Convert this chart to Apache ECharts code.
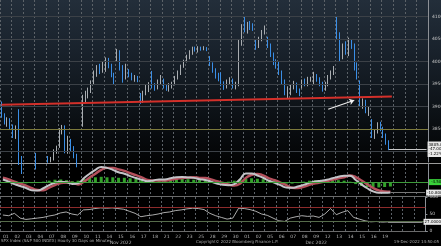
<!DOCTYPE html>
<html><head><meta charset="utf-8">
<script src="https://cdn.jsdelivr.net/npm/echarts@6/dist/echarts.min.js"></script>
<style>
html,body{margin:0;padding:0;background:#000;}
#c{width:441px;height:246px;background:linear-gradient(to bottom,#232e3a 0px,#19222c 50px,#0d1217 110px,#030405 160px,#000 163px);}
</style></head>
<body><div id="c"></div>
<script>
// ---- data ----
const dayLabels = ['01','02','03','04','07','08','09','10','11','14','15','16','17','18','21','22','23','25','28','29','30','01','02','05','06','07','08','09','12','13','14','15','16','19'];
const monthLabels = {10:'Nov 2022', 27:'Dec 2022'};
// candles: [open, close, low, high], 4 bars per trading day
const candles = [
[3901,3880,3875,3911],[3880,3866,3860,3885],[3866,3870,3855,3876],[3870,3856,3850,3874],
[3856,3835,3830,3860],[3835,3852,3828,3858],[3852,3780,3770,3894],[3780,3758,3750,3790],
[3758,3730,3722,3762],[3730,3715,3705,3738],[3715,3705,3698,3725],[3705,3720,3700,3730],
[3795,3765,3760,3797],[3765,3730,3716,3770],[3730,3750,3725,3760],[3750,3770,3745,3775],
[3785,3778,3775,3790],[3778,3782,3776,3788],[3782,3800,3780,3805],[3800,3807,3795,3813],
[3810,3845,3808,3852],[3845,3855,3838,3859],[3855,3800,3796,3858],[3800,3826,3795,3835],
[3826,3805,3800,3828],[3805,3790,3785,3812],[3790,3770,3765,3795],[3770,3748,3745,3775],
[3859,3920,3855,3926],[3920,3925,3910,3935],[3925,3935,3918,3942],[3935,3956,3930,3958],
[3960,3975,3950,3980],[3975,3985,3966,3992],[3985,3978,3972,3995],[3978,3993,3975,4001],
[3985,4005,3977,4009],[4005,3990,3985,4008],[3990,3970,3965,3995],[3970,3957,3949,3975],
[4006,4022,4000,4028],[4022,3985,3980,4025],[3985,3965,3953,3992],[3965,3991,3960,3995],
[3976,3970,3965,3983],[3970,3962,3958,3975],[3962,3966,3955,3970],[3966,3958,3954,3968],
[3925,3910,3906,3930],[3910,3930,3908,3935],[3930,3940,3925,3950],[3940,3947,3932,3954],
[3966,3945,3940,3979],[3945,3940,3935,3952],[3940,3955,3938,3960],[3955,3965,3950,3970],
[3956,3945,3940,3962],[3945,3940,3935,3950],[3940,3945,3933,3952],[3945,3950,3940,3955],
[3951,3965,3947,3968],[3965,3975,3960,3980],[3975,3990,3970,3993],[3990,4003,3986,4004],
[4001,4010,3998,4015],[4010,4020,4005,4025],[4020,4030,4015,4033],[4030,4027,4022,4033],
[4023,4030,4020,4034],[4030,4028,4024,4033],[4028,4031,4025,4034],[4031,4026,4023,4032],
[4005,3995,3990,4012],[3995,3980,3975,3998],[3980,3970,3962,3985],[3970,3964,3956,3975],
[3964,3950,3945,3976],[3950,3942,3937,3956],[3942,3955,3940,3960],[3955,3958,3948,3965],
[3957,3945,3940,3962],[3945,3950,3938,3955],[3950,4040,3945,4050],[4040,4080,4035,4083],
[4090,4070,4065,4100],[4070,4082,4062,4088],[4082,4078,4070,4090],[4078,4076,4068,4085],
[4041,4035,4026,4048],[4035,4050,4030,4055],[4050,4065,4045,4070],[4065,4072,4060,4080],
[4052,4035,4030,4055],[4035,4015,4010,4040],[4015,4000,3992,4020],[4000,3999,3984,4005],
[3996,3975,3970,4001],[3975,3955,3950,3980],[3955,3930,3925,3960],[3930,3941,3918,3945],
[3933,3945,3925,3950],[3945,3950,3938,3957],[3950,3935,3930,3953],[3935,3933,3923,3940],
[3947,3955,3940,3960],[3955,3950,3945,3962],[3950,3960,3945,3966],[3960,3963,3955,3966],
[3954,3968,3950,3977],[3968,3960,3955,3972],[3960,3950,3945,3965],[3950,3934,3933,3955],
[3939,3950,3935,3955],[3950,3965,3945,3970],[3965,3975,3960,3980],[3975,3990,3970,3990],
[4069,4060,4050,4100],[4060,4010,4000,4065],[4010,4035,4005,4040],[4035,4019,4015,4045],
[4015,4045,4012,4053],[4045,4035,4028,4050],[4035,3985,3980,4040],[3990,3966,3960,3998],
[3945,3905,3900,3958],[3905,3912,3895,3918],[3912,3890,3885,3915],[3890,3895,3879,3900],
[3870,3835,3830,3872],[3835,3845,3828,3850],[3845,3860,3840,3865],[3860,3852,3845,3866],
[3852,3835,3830,3855],[3835,3820,3815,3840],[3820,3805,3803,3825]
];
const priceTicks = [4100,4050,4000,3950,3900,3850,3800];
const priceMin = 3776.67, priceMax = 4136.67;
const trendStart = 3904, trendEnd = 3922;       // red trend line values
const arrowFrom = [113, 3894], arrowTo = [122, 3914];
// indicators, 2 points per trading day
const macdLine = [2.7,0.5,-2.0,-4.0,-6.0,-8.3,-8.5,-6.3,-3.0,-0.6,0.3,-0.2,-1.8,-1.2,4.0,8.7,12.7,15.7,14.7,12.7,10.2,8.7,6.2,4.2,2.5,1.0,1.8,2.8,2.8,4.0,5.0,5.2,4.8,4.4,3.0,2.2,0.5,-1.5,-2.8,-3.2,-2.0,3.0,9.0,9.0,6.9,4.5,1.4,-0.6,-3.1,-5.5,-5.8,-4.6,-2.8,-0.8,0.7,1.5,2.5,4.0,5.5,6.5,6.5,2.2,-2.3,-6.3,-9.5,-11.0,-11.0,-10.8];
const signalLine = [4.7,2.9,0.4,-1.6,-3.6,-6.3,-8.1,-8.3,-5.6,-3.0,-0.9,-0.4,-0.8,-2.4,0.4,4.7,8.7,12.7,14.7,14.7,13.2,11.7,9.2,7.2,4.9,2.4,1.6,1.6,1.6,2.4,3.4,4.2,4.6,5.0,4.4,4.2,2.9,0.9,-0.8,-2.4,-3.6,-1.6,4.4,7.4,8.5,6.9,4.0,2.0,-0.5,-3.1,-5.8,-6.0,-4.8,-2.8,-1.3,-0.1,0.9,2.4,3.9,4.9,6.9,5.2,1.7,-2.3,-6.1,-8.6,-9.6,-9.8];
const macdHist = [-0.5,-0.8,-1.0,-1.2,-1.2,-1.0,-0.6,0.5,1.5,2.5,2.8,2.0,1.0,1.5,3.5,4.5,5.0,5.5,5.0,5.0,4.5,4.5,4.0,3.5,3.0,2.0,1.5,2.5,3.0,3.5,3.5,3.5,3.0,2.5,2.0,1.5,1.0,0.5,0.3,0.5,1.5,3.0,4.0,4.0,3.5,3.0,2.0,1.0,-0.5,-1.5,-1.5,-1.0,0.5,1.5,2.0,2.0,2.0,2.0,2.0,1.5,0.5,-2.0,-4.0,-5.0,-5.5,-5.5,-5.0,-4.5];
const rsi = [47,45,52,38,34,36,38,40,44,47,53,56,50,47,62,63,66,68,67,68,66,64,58,52,42,45,47,50,54,56,60,62,65,67,66,63,52,45,40,35,38,67,66,63,58,50,46,38,30,28,38,42,45,43,44,40,50,66,48,55,60,40,35,30,27,28,26,27];
const rsiLevels = [70, 30];

// ---- layout ----
const GL = -4, GW = 432;
const nDays = 37, nBars = 148, nInd = 74;
const dayCats = Array.from({length:nDays}, (_, i) => i < dayLabels.length ? dayLabels[i] : '');
const barCats = Array.from({length:nBars}, (_, i) => i);
const indCats = Array.from({length:nInd}, (_, i) => i);
const FONT = 'DejaVu Sans';
const splitStyle = {show:true, interval:0, lineStyle:{color:'#5c6268', type:[2,2], width:1}};

function dayAxis(gi, labels){
  return {type:'category', gridIndex:gi, data:dayCats, boundaryGap:true,
    axisLine:{show:false}, axisTick:{show:false}, splitLine:splitStyle,
    axisLabel:{show:labels, interval:0, fontSize:4.5, color:'#b5b5b5', margin:3, fontFamily:FONT,
      formatter:(v, i) => monthLabels[i] ? v + '\n' + monthLabels[i] : v, lineHeight:6}};
}
function hiddenCat(gi, data){ return {type:'category', gridIndex:gi, data:data, boundaryGap:true, show:false}; }

const last = candles[candles.length-1];
const prevDayClose = candles[candles.length-4][1];
const lastIdx = candles.length-1;
const boxLabel = {show:true, position:'end', distance:1, fontSize:4, color:'#000', backgroundColor:'#e8e8e8', padding:[1,1], fontFamily:FONT};

const chart = echarts.init(document.getElementById('c'));
chart.setOption({
  animation:false,
  backgroundColor:'transparent',
  grid:[
    {left:GL, width:GW, top:0, height:162},
    {left:GL, width:GW, top:164, height:32},
    {left:GL, width:GW, top:197, height:34}
  ],
  xAxis:[dayAxis(0,false), hiddenCat(0,barCats), dayAxis(1,false), hiddenCat(1,indCats), dayAxis(2,true), hiddenCat(2,indCats)],
  yAxis:[
    {type:'value', gridIndex:0, position:'right', min:priceMin, max:priceMax, axisLine:{show:true, lineStyle:{color:'#8c9096'}}, axisTick:{show:false}, axisLabel:{show:false}, splitLine:{show:false}},
    {type:'value', gridIndex:1, position:'right', min:-14.3, max:18.7, axisLine:{show:true, lineStyle:{color:'#8c9096'}}, axisTick:{show:false}, axisLabel:{show:false}, splitLine:{show:false}},
    {type:'value', gridIndex:2, position:'right', min:0, max:100, interval:50, axisLine:{show:true, lineStyle:{color:'#8c9096'}}, axisTick:{show:true, length:2, lineStyle:{color:'#8c9096'}}, axisLabel:{show:true, fontSize:4.5, color:'#c0c0c0', margin:4, fontFamily:FONT}, splitLine:{show:false}}
  ],
  series:[
    {type:'candlestick', xAxisIndex:1, yAxisIndex:0, data:candles, barWidth:1.2,
     itemStyle:{color:'#a9adb1', color0:'#3a8ee6', borderColor:'#a9adb1', borderColor0:'#3a8ee6', borderWidth:1},
     markLine:{silent:true, symbol:'none', animation:false,
       data:[
         ...priceTicks.map(v => ({yAxis:v, lineStyle:{color: v===3850 ? '#7d7a3c' : '#3c4147', type:'solid', width:1},
            label:{show:true, position:'end', formatter:String(v), fontSize:4.5, color:'#c8c8c8', distance:4, fontFamily:FONT}})),
         [{coord:[0, trendStart], lineStyle:{color:'#d3302a', width:2, type:'solid'}, label:{show:false}}, {coord:[135, trendEnd]}],
         [{coord:[lastIdx, last[1]], lineStyle:{color:'#c8c8c8', width:1, type:'solid'},
           label:Object.assign({}, boxLabel, {lineHeight:4.5, formatter: () => last[1].toFixed(2) + '\n' + (last[1]-prevDayClose).toFixed(2) + '\n' + ((last[1]-prevDayClose)/prevDayClose*100).toFixed(2) + '%'})},
          {coord:[nBars-1, last[1]]}],
         [{coord:arrowFrom, symbol:'none', lineStyle:{color:'#f0f0f0', width:1.2, type:'solid'}, label:{show:false}}, {coord:arrowTo, symbol:'arrow', symbolSize:5}]
       ]}
    },
    {type:'bar', xAxisIndex:3, yAxisIndex:1, data:macdHist, barWidth:3, itemStyle:{color:'rgba(60,190,50,0.85)'},
     markLine:{silent:true, symbol:'none', data:[{yAxis:0, lineStyle:{color:'#3d9a3a', type:'solid', width:1},
       label:Object.assign({}, boxLabel, {backgroundColor:'#39d13a', padding:[1,2], formatter:()=>macdHist[macdHist.length-1].toFixed(4)})}]}},
    {type:'line', xAxisIndex:3, yAxisIndex:1, data:signalLine, smooth:true, symbol:'none', lineStyle:{color:'#b4505c', width:2.4}, z:3},
    {type:'line', xAxisIndex:3, yAxisIndex:1, data:macdLine, smooth:true, symbol:'none', lineStyle:{color:'#c4c4c8', width:2}, z:4,
     markLine:{silent:true, symbol:'none', data:[[{coord:[macdLine.length-1, macdLine[macdLine.length-1]], lineStyle:{color:'#777', width:1, type:'solid'},
       label:Object.assign({}, boxLabel, {formatter:()=>macdLine[macdLine.length-1].toFixed(4)})},
       {coord:[nInd-1, macdLine[macdLine.length-1]]}]]}},
    {type:'line', xAxisIndex:5, yAxisIndex:2, data:rsi, symbol:'none', lineStyle:{color:'#d6d6d6', width:0.8},
     markLine:{silent:true, symbol:'none', data:[
       {yAxis:rsiLevels[0], lineStyle:{color:'#8e2b2b', type:'solid', width:1}, label:{show:false}},
       {yAxis:rsiLevels[1], lineStyle:{color:'#566b4a', type:'solid', width:1}, label:{show:false}},
       [{coord:[rsi.length-1, rsi[rsi.length-1]], lineStyle:{color:'#888', width:1, type:'solid'},
         label:Object.assign({}, boxLabel, {formatter:()=>rsi[rsi.length-1].toFixed(4)})},
        {coord:[nInd-1, rsi[rsi.length-1]]}]
     ]}}
  ],
  graphic:[
    {type:'line', shape:{x1:0, y1:163.5, x2:441, y2:163.5}, style:{stroke:'#9a9a9a', lineWidth:1}},
    {type:'line', shape:{x1:0, y1:196.5, x2:441, y2:196.5}, style:{stroke:'#6a6a6a', lineWidth:1}},
    {type:'line', shape:{x1:0, y1:231.5, x2:428, y2:231.5}, style:{stroke:'#6a6a6a', lineWidth:1}},
    {type:'text', left:1, top:239, style:{text:'SPX Index (S&P 500 INDEX) Hourly 30 Days on Minutes', fontSize:4, fill:'#a8a8a8', fontFamily:FONT}},
    {type:'text', left:196, top:240, style:{text:'Copyright© 2022 Bloomberg Finance L.P.', fontSize:4, fill:'#a8a8a8', fontFamily:FONT}},
    {type:'text', right:2, top:240, style:{text:'19-Dec-2022 14:50:05', fontSize:4, fill:'#a8a8a8', fontFamily:FONT}}
  ]
});
</script></body></html>
